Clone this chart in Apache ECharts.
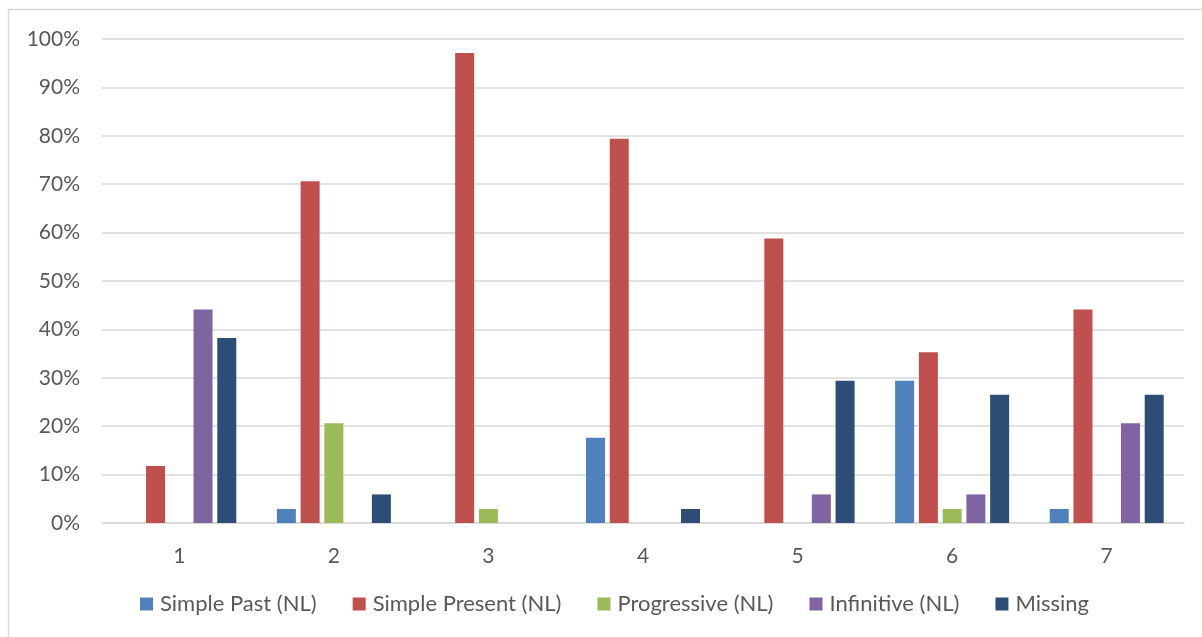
<!DOCTYPE html>
<html>
<head>
<meta charset="utf-8">
<script src="https://cdn.jsdelivr.net/npm/echarts@6/dist/echarts.min.js"></script>
<style>
html,body{margin:0;padding:0;background:#fff;}
#c{width:1202px;height:637px;}
</style>
</head>
<body>
<div id="c"></div>
<script>
const categories = ['1','2','3','4','5','6','7'];
const seriesNames = ['Simple Past (NL)','Simple Present (NL)','Progressive (NL)','Infinitive (NL)','Missing'];
const simplePast    = [0, 2.9, 0, 17.6, 0, 29.4, 2.9];
const simplePresent = [11.8, 70.6, 97.1, 79.4, 58.8, 35.3, 44.1];
const progressive   = [0, 20.6, 2.9, 0, 0, 2.9, 0];
const infinitive    = [44.1, 0, 0, 0, 5.9, 5.9, 20.6];
const missing       = [38.2, 5.9, 0, 2.9, 29.4, 26.5, 26.5];
const colors = ['#4F81BD','#C0504D','#9BBB59','#8064A2','#2C4D75'];
const allData = [simplePast, simplePresent, progressive, infinitive, missing];

const chart = echarts.init(document.getElementById('c'), null, {renderer:'canvas'});
const font = 'Lato, "Open Sans", sans-serif';
chart.setOption({
  animation:false,
  backgroundColor:'#fff',
  color: colors,
  graphic:[{type:'rect', shape:{x:8.5,y:9.5,width:1300,height:700}, style:{fill:'none',stroke:'#D9D9D9',lineWidth:1.5}, silent:true}],
  grid:{left:102,right:18,top:39,bottom:114,containLabel:false},
  legend:{
    bottom:17, left:135,
    itemWidth:13,itemHeight:13,itemGap:36,
    icon:'rect',
    data: seriesNames,
    textStyle:{fontFamily:font,fontSize:22,color:'#595959',padding:[0,0,0,2]}
  },
  xAxis:{
    type:'category', data:categories,
    axisLine:{show:true,lineStyle:{color:'#D9D9D9',width:1.5}},
    axisTick:{show:false},
    axisLabel:{fontFamily:font,fontSize:21,color:'#595959',margin:23}
  },
  yAxis:{
    type:'value', min:0, max:100, interval:10,
    axisLine:{show:false}, axisTick:{show:false},
    splitLine:{lineStyle:{color:'#D9D9D9',width:1.5}},
    axisLabel:{fontFamily:font,fontSize:21,color:'#595959',margin:22,formatter:'{value}%'}
  },
  series: seriesNames.map((n,i)=>({
    name:n, type:'bar', data:allData[i],
    barWidth:19, barGap:'25%',
    itemStyle:{color:colors[i]}
  }))
});
</script>
</body>
</html>
